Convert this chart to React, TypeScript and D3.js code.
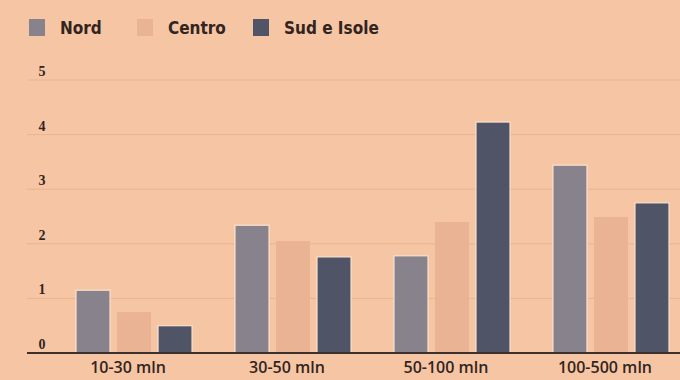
import * as d3 from "d3";

const categories = ["10-30 mln", "30-50 mln", "50-100 mln", "100-500 mln"];
const seriesNames = ["Nord", "Centro", "Sud e Isole"];
const nord = [1.15, 2.34, 1.78, 3.44];
const centro = [0.75, 2.05, 2.4, 2.49];
const sud = [0.5, 1.76, 4.23, 2.75];
const yTicks = [0, 1, 2, 3, 4, 5];

const seriesValues = [nord, centro, sud];
const colors = ["#87828c", "#e9b394", "#4f5466"];

const W = 680;
const H = 380;
const BG = "#f6c6a4";
const INK = "#33241f";

export default function App() {
  const x0 = d3.scaleBand<string>().domain(categories).range([76, 669]).paddingInner(0.27);
  const x1 = d3
    .scaleBand<string>()
    .domain(seriesNames)
    .range([0, x0.bandwidth()])
    .paddingInner(0.17);
  const y = d3.scaleLinear().domain([0, 5]).range([353, 80]);

  const legendX = [29, 137, 253];

  return (
    <svg
      width={W}
      height={H}
      style={{ position: "absolute", left: 0, top: 0, display: "block" }}
    >
      <rect x={0} y={0} width={W} height={H} fill={BG} />

      {/* legend */}
      {seriesNames.map((s, i) => (
        <g key={s} transform={`translate(${legendX[i]},19)`}>
          <rect width={16} height={17} fill={colors[i]} />
          <text
            x={31}
            y={15}
            fill={INK}
            fontFamily="'DejaVu Sans', sans-serif"
            fontStretch="condensed"
            fontWeight="bold"
            fontSize={17}
          >
            {s}
          </text>
        </g>
      ))}

      {/* grid + y labels */}
      {yTicks.map((t) =>
        t === 0 ? null : (
          <line key={t} x1={27} x2={W} y1={y(t)} y2={y(t)} stroke="#e8b491" strokeWidth={1} />
        )
      )}
      {yTicks.map((t) => (
        <text
          key={`l${t}`}
          x={42}
          y={y(t) - 4}
          textAnchor="middle"
          fill={INK}
          fontFamily="'Liberation Serif', serif"
          fontWeight="bold"
          fontSize={14}
        >
          {t}
        </text>
      ))}

      {/* bars */}
      {categories.map((c, ci) => (
        <g key={c} transform={`translate(${x0(c)},0)`}>
          {seriesNames.map((s, si) => {
            const v = seriesValues[si][ci];
            return (
              <rect
                key={s}
                x={x1(s)}
                y={y(v)}
                width={x1.bandwidth()}
                height={y(0) - y(v)}
                fill={colors[si]}
                stroke={si === 1 ? "none" : "#fbe2cd"}
                strokeWidth={1.2}
              />
            );
          })}
        </g>
      ))}

      {/* baseline */}
      <line x1={27} x2={W} y1={y(0)} y2={y(0)} stroke="#3b302b" strokeWidth={2} />

      {/* category labels */}
      {categories.map((c) => (
        <text
          key={`c${c}`}
          x={(x0(c) ?? 0) + x0.bandwidth() / 2 - 6}
          y={373}
          textAnchor="middle"
          fill={INK}
          fontFamily="'Open Sans', sans-serif"
          fontWeight={600}
          fontSize={16}
        >
          {c}
        </text>
      ))}
    </svg>
  );
}
